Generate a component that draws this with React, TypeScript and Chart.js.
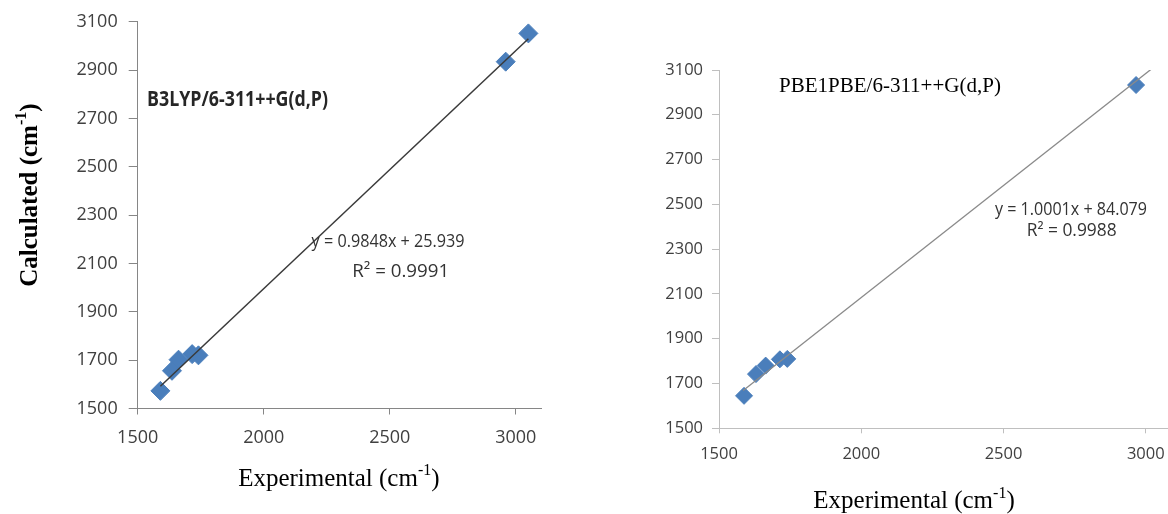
import React, { useEffect, useRef } from "react";
import { Chart, registerables } from "chart.js";

Chart.register(...registerables);

// ---- data ----
const expLeft = [1590, 1636, 1662, 1716, 1741, 2960, 3050];
const calcLeft = [1573, 1656, 1702, 1725, 1720, 2935, 3052];
const expRight = [1588, 1630, 1664, 1714, 1740, 2966];
const calcRight = [1645, 1742, 1780, 1808, 1810, 3033];

const xTicks = [1500, 2000, 2500, 3000];
const yTicks = [1500, 1700, 1900, 2100, 2300, 2500, 2700, 2900, 3100];

// trend line fit [slope, intercept] and x extent
const leftFit = [0.9848, 25.939];
const rightFit = [1.0001, 84.079];
const leftTrendX = [1590, 3050];
const rightTrendX = [1585, 3100];

const leftMethod = "B3LYP/6-311++G(d,P)";
const rightMethod = "PBE1PBE/6-311++G(d,P)";
const leftEq = ["y = 0.9848x + 25.939", "R² = 0.9991"];
const rightEq = ["y = 1.0001x + 84.079", "R² = 0.9988"];

type Part = { t: string; sup?: boolean };
const xTitle: Part[] = [{ t: "Experimental (cm" }, { t: "-1", sup: true }, { t: ")" }];
const yTitle: Part[] = [{ t: "Calculated (cm" }, { t: "-1", sup: true }, { t: ")" }];

const SERIF = "'Liberation Serif', 'Times New Roman', serif";
const SANS = "'Open Sans', 'Noto Sans', sans-serif";

function drawRich(
  ctx: CanvasRenderingContext2D,
  parts: Part[],
  x: number,
  y: number,
  size: number,
  weight: string,
  family: string,
  align: "left" | "center"
) {
  const mainFont = `${weight} ${size}px ${family}`;
  const supFont = `${weight} ${Math.round(size * 0.62)}px ${family}`;
  const widths = parts.map((p) => {
    ctx.font = p.sup ? supFont : mainFont;
    return ctx.measureText(p.t).width;
  });
  const total = widths.reduce((a, b) => a + b, 0);
  let cx = align === "center" ? x - total / 2 : x;
  ctx.textAlign = "left";
  ctx.textBaseline = "alphabetic";
  parts.forEach((p, i) => {
    ctx.font = p.sup ? supFont : mainFont;
    ctx.fillText(p.t, cx, p.sup ? y - size * 0.42 : y);
    cx += widths[i];
  });
}

function drawAt(
  ctx: CanvasRenderingContext2D,
  text: string,
  x: number,
  y: number,
  font: string,
  color: string,
  targetWidth?: number
) {
  ctx.save();
  ctx.font = font;
  ctx.fillStyle = color;
  ctx.textAlign = "left";
  ctx.textBaseline = "middle";
  if (targetWidth) {
    const w = ctx.measureText(text).width;
    ctx.translate(x, y);
    ctx.scale(targetWidth / w, 1);
    ctx.fillText(text, 0, 0);
  } else {
    ctx.fillText(text, x, y);
  }
  ctx.restore();
}

function fixedTicks(list: number[]) {
  return (scale: any) => {
    scale.ticks = list.map((v) => ({ value: v }));
  };
}

const plain = (v: any) => String(v);

function buildLeft(canvas: HTMLCanvasElement) {
  const plugin = {
    id: "leftText",
    afterDraw(chart: any) {
      const ctx = chart.ctx as CanvasRenderingContext2D;
      const xs = chart.scales.x;
      const ys = chart.scales.y;
      const area = chart.chartArea;
      ctx.save();
      drawAt(ctx, leftMethod, xs.getPixelForValue(1537), ys.getPixelForValue(2778), `bold 22px ${SANS}`, "#262626", 181);
      drawAt(ctx, leftEq[0], xs.getPixelForValue(2190), ys.getPixelForValue(2191), `18px ${SANS}`, "#333333", 153);
      drawAt(ctx, leftEq[1], xs.getPixelForValue(2351), ys.getPixelForValue(2067), `18px ${SANS}`, "#333333", 97);
      ctx.fillStyle = "#000000";
      drawRich(ctx, xTitle, (area.left + area.right) / 2 - 0.5, area.bottom + 77, 25, "normal", SERIF, "center");
      ctx.translate(area.left - 101, (area.top + area.bottom) / 2 - 20);
      ctx.rotate(-Math.PI / 2);
      drawRich(ctx, yTitle, 0, 0, 25, "bold", SERIF, "center");
      ctx.restore();
    },
  };
  return new Chart(canvas, {
    type: "scatter",
    data: {
      datasets: [
        {
          type: "line",
          data: leftTrendX.map((x) => ({ x, y: leftFit[0] * x + leftFit[1] })),
          borderColor: "#3a3a3a",
          borderWidth: 1.5,
          pointRadius: 0,
          fill: false,
          order: 0,
        } as any,
        {
          type: "scatter",
          data: expLeft.map((x, i) => ({ x, y: calcLeft[i] })),
          pointStyle: "rectRot",
          pointRadius: 9.5,
          backgroundColor: "#4A7EBB",
          borderColor: "#4A7EBB",
          borderWidth: 1,
          order: 1,
        } as any,
      ],
    },
    options: {
      responsive: false,
      animation: false,
      devicePixelRatio: 1,
      layout: { padding: { left: 0, top: 20, right: 600 - 541, bottom: 0 } },
      plugins: { legend: { display: false }, tooltip: { enabled: false } },
      scales: {
        x: {
          type: "linear",
          min: 1500,
          max: 3100,
          afterBuildTicks: fixedTicks(xTicks),
          afterFit: (s: any) => {
            s.height = 514 - 408.5;
          },
          grid: { drawOnChartArea: false, drawTicks: true, tickLength: 6, color: "#868686" },
          border: { color: "#868686", width: 1 },
          ticks: { padding: 13, color: "#404040", font: { family: SANS, size: 18 }, maxRotation: 0, autoSkip: false, callback: plain },
        },
        y: {
          type: "linear",
          min: 1500,
          max: 3100,
          afterBuildTicks: fixedTicks(yTicks),
          afterFit: (s: any) => {
            s.width = 137.7;
          },
          grid: { drawOnChartArea: false, drawTicks: true, tickLength: 9, color: "#868686" },
          border: { color: "#868686", width: 1 },
          ticks: { padding: 11, color: "#404040", font: { family: SANS, size: 18 }, autoSkip: false, callback: plain },
        },
      },
    } as any,
    plugins: [plugin],
  });
}

function buildRight(canvas: HTMLCanvasElement) {
  const plugin = {
    id: "rightText",
    afterDraw(chart: any) {
      const ctx = chart.ctx as CanvasRenderingContext2D;
      const xs = chart.scales.x;
      const ys = chart.scales.y;
      ctx.save();
      drawAt(ctx, rightMethod, xs.getPixelForValue(1711), ys.getPixelForValue(3027), `21px ${SERIF}`, "#000000");
      drawAt(ctx, rightEq[0], xs.getPixelForValue(2470), ys.getPixelForValue(2473), `17.5px ${SANS}`, "#333333", 152);
      drawAt(ctx, rightEq[1], xs.getPixelForValue(2581.5), ys.getPixelForValue(2381), `17.5px ${SANS}`, "#333333", 90);
      ctx.fillStyle = "#000000";
      drawRich(ctx, xTitle, 914 - 640, 508, 25, "normal", SERIF, "center");
      ctx.restore();
    },
  };
  return new Chart(canvas, {
    type: "scatter",
    data: {
      datasets: [
        {
          type: "line",
          data: rightTrendX.map((x) => ({ x, y: rightFit[0] * x + rightFit[1] })),
          borderColor: "#8a8a8a",
          borderWidth: 1.3,
          pointRadius: 0,
          fill: false,
          order: 0,
        } as any,
        {
          type: "scatter",
          data: expRight.map((x, i) => ({ x, y: calcRight[i] })),
          pointStyle: "rectRot",
          pointRadius: 8.5,
          backgroundColor: "#4A7EBB",
          borderColor: "#4A7EBB",
          borderWidth: 1,
          order: 1,
        } as any,
      ],
    },
    options: {
      responsive: false,
      animation: false,
      devicePixelRatio: 1,
      layout: { padding: { left: 0, top: 70, right: 560 - 534.2, bottom: 0 } },
      plugins: { legend: { display: false }, tooltip: { enabled: false } },
      scales: {
        x: {
          type: "linear",
          min: 1500,
          max: 3100,
          afterBuildTicks: fixedTicks(xTicks),
          afterFit: (s: any) => {
            s.height = 514 - 428.3;
          },
          grid: { drawOnChartArea: false, drawTicks: true, tickLength: 5, color: "#BFBFBF" },
          border: { color: "#BFBFBF", width: 1 },
          ticks: { padding: 11.5, color: "#404040", font: { family: SANS, size: 16.5 }, maxRotation: 0, autoSkip: false, callback: plain },
        },
        y: {
          type: "linear",
          min: 1500,
          max: 3100,
          afterBuildTicks: fixedTicks(yTicks),
          afterFit: (s: any) => {
            s.width = 79;
          },
          grid: { drawOnChartArea: false, drawTicks: true, tickLength: 7, color: "#BFBFBF" },
          border: { color: "#BFBFBF", width: 1 },
          ticks: { padding: 9, color: "#404040", font: { family: SANS, size: 16.5 }, autoSkip: false, callback: plain },
        },
      },
    } as any,
    plugins: [plugin],
  });
}

export default function App() {
  const leftRef = useRef<HTMLCanvasElement | null>(null);
  const rightRef = useRef<HTMLCanvasElement | null>(null);

  useEffect(() => {
    if (!leftRef.current || !rightRef.current) return;
    const a = buildLeft(leftRef.current);
    const b = buildRight(rightRef.current);
    let alive = true;
    if ((document as any).fonts && (document as any).fonts.load) {
      Promise.all([
        document.fonts.load(`16px 'Open Sans'`),
        document.fonts.load(`bold 20px 'Open Sans'`),
        document.fonts.load(`25px 'Liberation Serif'`),
        document.fonts.load(`bold 25px 'Liberation Serif'`),
      ])
        .catch(() => undefined)
        .then(() => {
          if (alive) {
            a.update();
            b.update();
          }
        });
    }
    return () => {
      alive = false;
      a.destroy();
      b.destroy();
    };
  }, []);

  return (
    <div style={{ position: "absolute", left: 0, top: 0, width: 1168, height: 514, overflow: "hidden", background: "#fff" }}>
      <canvas ref={leftRef} width={600} height={514} style={{ position: "absolute", left: 0, top: 0, width: 600, height: 514 }} />
      <div style={{ position: "absolute", left: 640, top: 0, width: 528, height: 514, overflow: "hidden" }}>
        <canvas ref={rightRef} width={560} height={514} style={{ position: "absolute", left: 0, top: 0, width: 560, height: 514 }} />
      </div>
    </div>
  );
}
